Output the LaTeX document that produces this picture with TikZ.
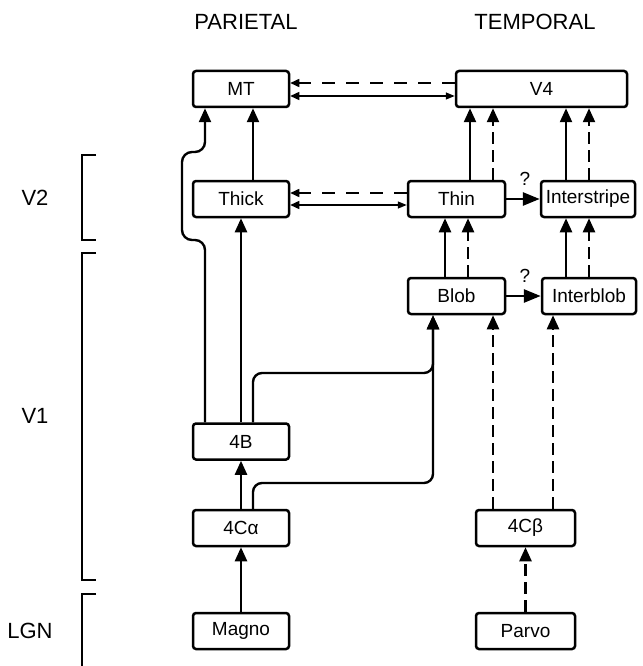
\documentclass[tikz,border=0pt]{standalone}
\usepackage{fontspec}
\setmainfont{Liberation Sans}
\usetikzlibrary{arrows.meta}
\begin{document}
\begin{tikzpicture}[x=1pt,y=-1pt,
  box/.style={draw, line width=2.5pt, rounded corners=3pt, minimum height=36pt, inner sep=0pt, font=\fontsize{19}{22}\selectfont},
  lbl/.style={font=\fontsize{22}{26}\selectfont},
  fwd/.style={line width=2.4pt, -{Triangle[length=14pt,width=12pt]}},
  fwddash/.style={fwd, dash pattern=on 12pt off 6pt},
  qarrow/.style={line width=2.8pt, -{Triangle[length=17pt,width=13pt]}},
  backdash/.style={line width=1.5pt, dash pattern=on 13pt off 11pt, -{Triangle[length=9pt,width=8pt]}},
  twoway/.style={line width=1.4pt, {Triangle[length=9pt,width=8pt]}-{Triangle[length=9pt,width=7pt]}},
  brk/.style={line width=1.4pt},
  qm/.style={font=\fontsize{19}{22}\selectfont}]
\useasboundingbox (0,0) rectangle (642,666);

% column / row helpers
\coordinate (x205) at (205,0);
\coordinate (x253) at (253,0);
\coordinate (x445) at (445,0);
\coordinate (x468) at (468,0);
\coordinate (x470) at (470,0);
\coordinate (x493) at (493,0);
\coordinate (x553) at (553,0);
\coordinate (x566) at (566,0);
\coordinate (x589) at (589,0);
\coordinate (y83) at (0,83);
\coordinate (y96) at (0,96);
\coordinate (y193) at (0,193);
\coordinate (y205) at (0,205);
\coordinate (k1) at (433,483);
\coordinate (k2) at (433,373);
\coordinate (L1) at (182,240);
\coordinate (L2) at (182,152);

% headings and side labels
\node[lbl] (par) at (246,22) {PARIETAL};
\node[lbl] (tem) at (535,22) {TEMPORAL};
\node[lbl] (lv2) at (35,198) {V2};
\node[lbl] (lv1) at (35,416) {V1};
\node[lbl] (llgn) at (30,631) {LGN};

% brackets
\draw[brk] (96,155) -- (82,155) -- (82,240) -- (96,240);
\draw[brk] (96,253) -- (82,253) -- (82,580) -- (96,580);
\draw[brk] (96,594) -- (82,594) -- (82,666);

% boxes
\node[box, minimum width=96pt] (MT) at (241,89) {MT};
\node[box, minimum width=171pt] (V4) at (541.5,89) {V4};
\node[box, minimum width=96pt] (Thick) at (241,199) {Thick};
\node[box, minimum width=97pt] (Thin) at (456.5,199) {Thin};
\node[box, minimum width=94pt] (Inter) at (588,199) {Interstripe};
\node[box, minimum width=97pt] (Blob) at (456.5,296) {Blob};
\node[box, minimum width=94pt] (Interblob) at (589,296) {Interblob};
\node[box, minimum width=96pt] (FourB) at (241,441.5) {4B};
\node[box, minimum width=96pt] (FourCa) at (241,528) {4Cα};
\node[box, minimum width=99pt] (FourCb) at (525.5,528) {4Cβ};
\node[box, minimum width=96pt] (Magno) at (241,631) {Magno};
\node[box, minimum width=99pt] (Parvo) at (525.5,631) {Parvo};

% magno stream
\draw[fwd] (Magno.north) -- (FourCa.south);
\draw[fwd] (FourCa.north) -- (FourB.south);
\draw[fwd] (FourB.north) -- (Thick.south);
\draw[fwd] (Thick.north -| x253) -- (MT.south -| x253);
\draw[fwd, rounded corners=10pt] (FourB.north -| x205) |- (L1) -- (L2) -| (MT.south -| x205);
\draw[fwd, rounded corners=9pt] (FourCa.north -| x253) |- (k1) -- (Blob.south -| k1);
\draw[fwd, rounded corners=9pt] (FourB.north -| x253) |- (k2) -- (Blob.south -| k2);

% parvo stream
\draw[fwddash] (Parvo.north) -- (FourCb.south);
\draw[fwddash] (FourCb.north -| x493) -- (Blob.south -| x493);
\draw[fwddash] (FourCb.north -| x553) -- (Interblob.south -| x553);
\draw[fwd] (Blob.north -| x445) -- (Thin.south -| x445);
\draw[fwddash] (Blob.north -| x468) -- (Thin.south -| x468);
\draw[fwd] (Thin.north -| x470) -- (V4.south -| x470);
\draw[fwddash] (Thin.north -| x493) -- (V4.south -| x493);
\draw[fwd] (Interblob.north -| x566) -- (Inter.south -| x566);
\draw[fwddash] (Interblob.north -| x589) -- (Inter.south -| x589);
\draw[fwd] (Inter.north -| x566) -- (V4.south -| x566);
\draw[fwddash] (Inter.north -| x589) -- (V4.south -| x589);

% questioned links
\draw[qarrow] (Thin.east) -- (Inter.west);
\node[qm] (q1) at (525,179) {?};
\draw[qarrow] (Blob.east) -- (Interblob.west);
\node[qm] (q2) at (525,276) {?};

% lateral links
\draw[backdash] (V4.west |- y83) -- (MT.east |- y83);
\draw[twoway] (MT.east |- y96) -- (V4.west |- y96);
\draw[backdash] (Thin.west |- y193) -- (Thick.east |- y193);
\draw[twoway] (Thick.east |- y205) -- (Thin.west |- y205);
\end{tikzpicture}
\end{document}
